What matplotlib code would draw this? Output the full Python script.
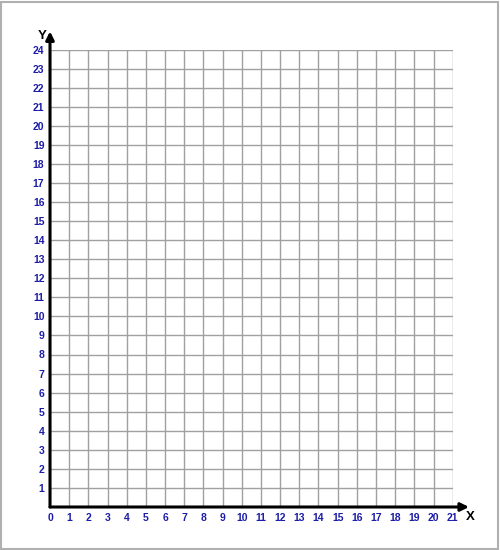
import matplotlib.pyplot as plt
from matplotlib.patches import Rectangle

x_ticks = list(range(0, 22))
y_ticks = list(range(1, 25))
x_max = 21
y_max = 24

plt.rcParams['font.family'] = ['Liberation Sans', 'DejaVu Sans']

fig = plt.figure(figsize=(5, 5.5), dpi=100)
ax = fig.add_axes([50 / 500, 1 - 507 / 550, 402.7 / 500, 457.5 / 550])
ax.set_xlim(0, x_max)
ax.set_ylim(0, y_max)

ax.set_xticks(x_ticks)
ax.set_yticks(y_ticks)
ax.set_xticklabels([str(v) for v in x_ticks], color='#1c1ca8', fontweight='bold', fontsize=7.5)
ax.set_yticklabels([str(v) for v in y_ticks], color='#1c1ca8', fontweight='bold', fontsize=7.5)
ax.tick_params(length=0, pad=4)
ax.grid(True, color='#a0a0a0', linewidth=1)
ax.set_axisbelow(True)
for s in ax.spines.values():
    s.set_visible(False)

# axes arrows
ax.annotate('', xy=(21.85, 0), xytext=(0, 0), xycoords='data',
            arrowprops=dict(arrowstyle='-|>', lw=2.2, color='black', mutation_scale=12,
                            shrinkA=0, shrinkB=0), annotation_clip=False)
ax.annotate('', xy=(0, 24.95), xytext=(0, 0), xycoords='data',
            arrowprops=dict(arrowstyle='-|>', lw=2.2, color='black', mutation_scale=12,
                            shrinkA=0, shrinkB=0), annotation_clip=False)

fig.text(42 / 500, 1 - 36 / 550, 'Y', fontsize=9.5, fontweight='bold', ha='center', va='center')
fig.text(470 / 500, 1 - 517 / 550, 'X', fontsize=9.5, fontweight='bold', ha='center', va='center')

# light frame around the picture
fig.add_artist(Rectangle((0.002, 0.002), 0.994, 0.995, transform=fig.transFigure,
                         fill=False, edgecolor='#b0b0b0', linewidth=1.5))

fig.savefig('out.png', dpi=100)
